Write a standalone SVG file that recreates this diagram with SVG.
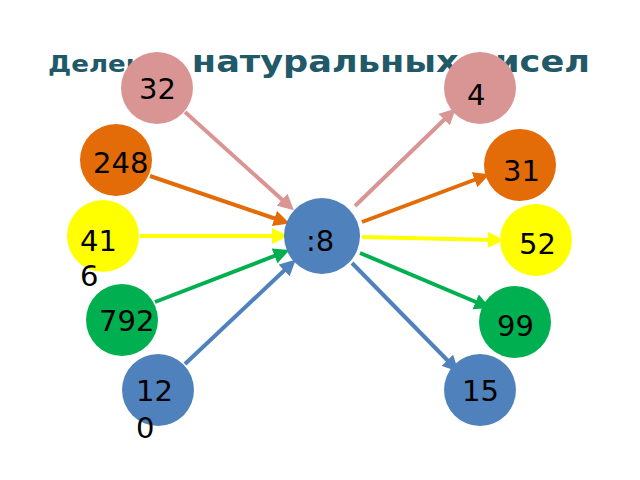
<svg xmlns="http://www.w3.org/2000/svg" width="640" height="480" viewBox="0 0 640 480">
<defs>
<style>
.t{font-family:"DejaVu Sans",sans-serif;font-size:29px;fill:#000}
.c line{stroke-width:4}
</style>
<marker id="pk" markerWidth="4" markerHeight="4" refX="2" refY="2" orient="auto" markerUnits="strokeWidth"><path d="M0,0L4,2L0,4z" fill="#d99594"/></marker>
<marker id="or" markerWidth="4" markerHeight="4" refX="2" refY="2" orient="auto" markerUnits="strokeWidth"><path d="M0,0L4,2L0,4z" fill="#e36c09"/></marker>
<marker id="ye" markerWidth="4" markerHeight="4" refX="2" refY="2" orient="auto" markerUnits="strokeWidth"><path d="M0,0L4,2L0,4z" fill="#ffff00"/></marker>
<marker id="gr" markerWidth="4" markerHeight="4" refX="2" refY="2" orient="auto" markerUnits="strokeWidth"><path d="M0,0L4,2L0,4z" fill="#00b050"/></marker>
<marker id="bl" markerWidth="4" markerHeight="4" refX="2" refY="2" orient="auto" markerUnits="strokeWidth"><path d="M0,0L4,2L0,4z" fill="#4f81bd"/></marker>
</defs>
<rect width="640" height="480" fill="#fff"/>
<text x="48" y="72" font-family="DejaVu Sans,sans-serif" font-weight="bold" fill="#215968" textLength="542" lengthAdjust="spacingAndGlyphs"><tspan font-size="23">Деление</tspan><tspan font-size="31"> натуральных чисел</tspan></text>
<g class="c">
<line x1="185" y1="112" x2="288" y2="205" stroke="#d99594" marker-end="url(#pk)"/>
<line x1="150" y1="176" x2="282" y2="221" stroke="#e36c09" marker-end="url(#or)"/>
<line x1="140" y1="236" x2="280" y2="236" stroke="#ffff00" marker-end="url(#ye)"/>
<line x1="155" y1="302" x2="282" y2="253" stroke="#00b050" marker-end="url(#gr)"/>
<line x1="185" y1="364" x2="290" y2="265" stroke="#4f81bd" marker-end="url(#bl)"/>
<line x1="355" y1="206" x2="450" y2="114" stroke="#d99594" marker-end="url(#pk)"/>
<line x1="362" y1="222" x2="482" y2="177" stroke="#e36c09" marker-end="url(#or)"/>
<line x1="362" y1="237" x2="496" y2="240" stroke="#ffff00" marker-end="url(#ye)"/>
<line x1="360" y1="253" x2="483" y2="305" stroke="#00b050" marker-end="url(#gr)"/>
<line x1="352" y1="263" x2="453" y2="366" stroke="#4f81bd" marker-end="url(#bl)"/>
</g>
<g id="n32"><circle cx="157" cy="88" r="36" fill="#d99594"/><text class="t" x="139" y="99">32</text></g>
<g id="n4"><circle cx="480" cy="88" r="36" fill="#d99594"/><text class="t" x="467" y="105">4</text></g>
<g id="n248"><circle cx="116" cy="160" r="36" fill="#e36c09"/><text class="t" x="93" y="173">248</text></g>
<g id="n31"><circle cx="520" cy="165" r="36" fill="#e36c09"/><text class="t" x="503" y="181">31</text></g>
<g id="n416"><circle cx="103" cy="236" r="36" fill="#ffff00"/><text class="t" x="80" y="251">41</text><text class="t" x="80" y="286">6</text></g>
<g id="n52"><circle cx="536" cy="240" r="36" fill="#ffff00"/><text class="t" x="519" y="254">52</text></g>
<g id="n792"><circle cx="122" cy="320" r="36" fill="#00b050"/><text class="t" x="99" y="331">792</text></g>
<g id="n99"><circle cx="515" cy="322" r="36" fill="#00b050"/><text class="t" x="497" y="336">99</text></g>
<g id="n120"><circle cx="158" cy="390" r="36" fill="#4f81bd"/><text class="t" x="136" y="401">12</text><text class="t" x="136" y="438">0</text></g>
<g id="n15"><circle cx="480" cy="390" r="36" fill="#4f81bd"/><text class="t" x="462" y="401">15</text></g>
<g id="center"><circle cx="322" cy="236" r="38" fill="#4f81bd"/><text class="t" x="306" y="251" font-size="38">:8</text></g>
</svg>
